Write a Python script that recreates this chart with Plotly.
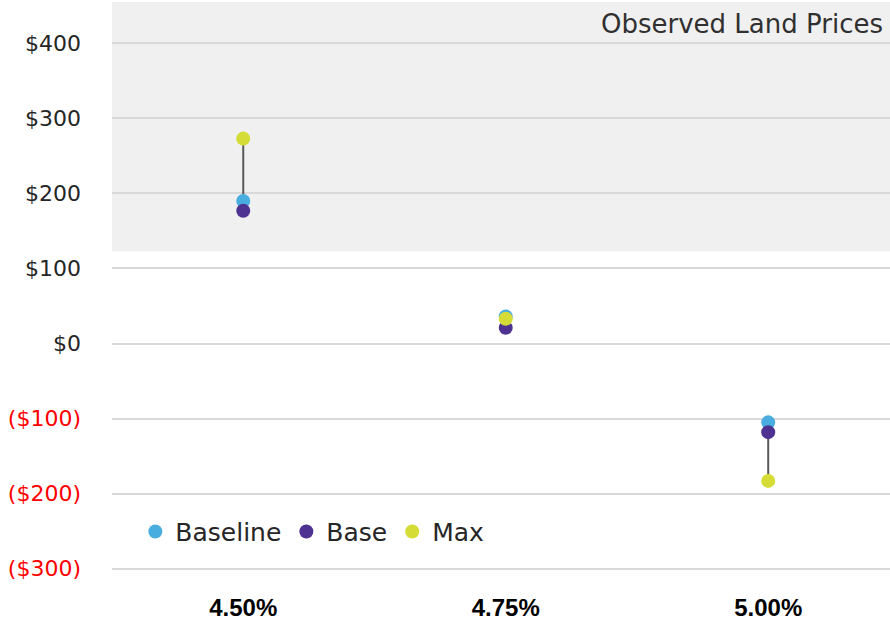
import plotly.graph_objects as go

# Cap rate scenarios and residual land values ($ per unit)
categories = ["4.50%", "4.75%", "5.00%"]
baseline = [190, 36, -105]
base = [177, 21, -118]
max_case = [273, 33, -183]

series_names = ["Baseline", "Base", "Max"]
series_colors = ["#4AADE0", "#4E3291", "#D4DC35"]

y_ticks = [400, 300, 200, 100, 0, -100, -200, -300]
observed_band = [123, 455]  # range of observed land prices

FONT = "'DejaVu Sans', Verdana, sans-serif"


def money(v):
    if v < 0:
        return '<span style="color:#FF0000">($%d)</span>' % abs(v)
    return "$%d" % v


fig = go.Figure()

# Range whisker from the lowest to the highest scenario at each cap rate
lx, ly = [], []
for i, c in enumerate(categories):
    vals = [baseline[i], base[i], max_case[i]]
    lx += [c, c, None]
    ly += [min(vals), max(vals), None]
fig.add_trace(go.Scatter(x=lx, y=ly, mode="lines",
                         line=dict(color="#595959", width=2),
                         showlegend=False, hoverinfo="skip"))

for name, vals, col in zip(series_names, [baseline, base, max_case], series_colors):
    fig.add_trace(go.Scatter(x=categories, y=vals, mode="markers", name=name,
                             marker=dict(color=col, size=14, line=dict(width=0))))

# Shaded band for observed land prices
fig.add_shape(type="rect", xref="paper", yref="y", x0=0, x1=1,
              y0=observed_band[0], y1=observed_band[1],
              fillcolor="#F0F0F0", line=dict(width=0), layer="below")

fig.add_annotation(text="Observed Land Prices", xref="paper", yref="paper",
                   x=0.993, y=0.991, xanchor="right", yanchor="top",
                   showarrow=False, font=dict(family=FONT, size=26, color="#303030"))

fig.update_layout(
    width=890, height=621,
    margin=dict(l=112, r=0, t=2, b=50),
    paper_bgcolor="white", plot_bgcolor="white",
    font=dict(family=FONT, color="#262626"),
    legend=dict(orientation="h", x=0.03, y=0.069, xanchor="left", yanchor="middle",
                font=dict(size=25, color="#262626"), bgcolor="rgba(0,0,0,0)",
                itemwidth=30, tracegroupgap=0),
    xaxis=dict(range=[-0.5, 2.464], showgrid=False, zeroline=False, showline=False,
               tickfont=dict(family="'Liberation Sans', Arial, sans-serif", size=24,
                             color="#000000", weight="bold"),
               ticklabelstandoff=20),
    yaxis=dict(range=[-303, 455], tickvals=y_ticks, ticktext=[money(v) for v in y_ticks],
               showgrid=True, gridcolor="#D9D9D9", gridwidth=2, zeroline=False,
               showline=False, tickfont=dict(size=22, color="#262626"),
               ticklabelstandoff=30),
)

fig.write_html("out.html")
